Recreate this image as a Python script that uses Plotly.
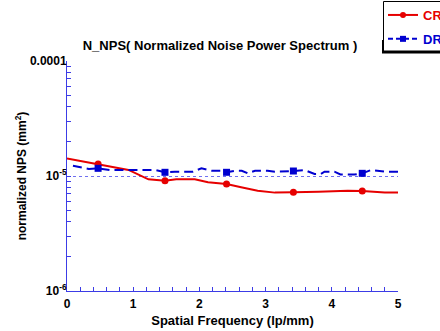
import plotly.graph_objects as go

# ---- data ----
cr_x = [0, 0.47, 0.93, 1.23, 1.48, 1.65, 1.93, 2.13, 2.41, 2.63, 2.88, 3.14, 3.36, 3.42, 3.8, 4.24, 4.46, 4.8, 5.0]
cr_y = [1.42e-5, 1.27e-5, 1.13e-5, 9.36e-6, 9.1e-6, 9.35e-6, 9.35e-6, 8.82e-6, 8.52e-6, 7.98e-6, 7.46e-6,
        7.17e-6, 7.17e-6, 7.22e-6, 7.3e-6, 7.46e-6, 7.41e-6, 7.17e-6, 7.17e-6]
cr_mx = [0.47, 1.48, 2.41, 3.42, 4.46]
cr_my = [1.27e-5, 9.1e-6, 8.52e-6, 7.22e-6, 7.41e-6]

dr_x = [0.09, 0.33, 0.47, 0.65, 1.0, 1.33, 1.48, 1.63, 1.9, 2.03, 2.19, 2.34, 2.41, 2.53, 2.64, 2.73, 2.84,
        3.03, 3.14, 3.36, 3.42, 3.59, 3.74, 3.83, 3.89, 4.04, 4.13, 4.34, 4.46, 4.59, 4.8, 5.0]
dr_y = [1.23e-5, 1.15e-5, 1.166e-5, 1.127e-5, 1.127e-5, 1.127e-5, 1.077e-5, 1.09e-5, 1.09e-5, 1.166e-5,
        1.11e-5, 1.11e-5, 1.077e-5, 1.11e-5, 1.11e-5, 1.055e-5, 1.11e-5, 1.11e-5, 1.09e-5, 1.09e-5,
        1.105e-5, 1.127e-5, 1.04e-5, 1.04e-5, 1.09e-5, 1.09e-5, 1.03e-5, 1.03e-5, 1.055e-5, 1.127e-5,
        1.09e-5, 1.09e-5]
dr_mx = [0.47, 1.48, 2.41, 3.42, 4.46]
dr_my = [1.166e-5, 1.077e-5, 1.077e-5, 1.105e-5, 1.055e-5]

y_major = [1e-6, 1e-5, 1e-4]
y_major_text = ["10<sup>-6</sup>", "10<sup>-5</sup>", "0.0001"]
y_tickvals = sorted(y_major + [m * d for d in (1e-6, 1e-5) for m in range(2, 10)])
y_ticktext = [y_major_text[y_major.index(v)] if v in y_major else "" for v in y_tickvals]

RED = "#e60000"
BLUE = "#0000d0"
AXIS = "#3c3ce6"
GRID = "#7070f0"
FONT = "Liberation Sans, Arial, sans-serif"

fig = go.Figure()
fig.add_trace(go.Scatter(x=cr_x, y=cr_y, mode="lines", line=dict(color=RED, width=2),
                         showlegend=False, hoverinfo="skip"))
fig.add_trace(go.Scatter(x=cr_mx, y=cr_my, mode="markers",
                         marker=dict(color=RED, size=7, symbol="circle"), showlegend=False))
fig.add_trace(go.Scatter(x=dr_x, y=dr_y, mode="lines", line=dict(color=BLUE, width=2, dash="9px,5px"),
                         showlegend=False, hoverinfo="skip"))
fig.add_trace(go.Scatter(x=dr_mx, y=dr_my, mode="markers",
                         marker=dict(color=BLUE, size=7, symbol="square"), showlegend=False))
# legend entries
fig.add_trace(go.Scatter(x=[None], y=[None], mode="lines+markers", name="<span style='color:%s'>CR</span>" % RED,
                         line=dict(color=RED, width=2), marker=dict(color=RED, size=6, symbol="circle"),
                         legendgroup="a"))
fig.add_trace(go.Scatter(x=[None], y=[None], mode="lines+markers", name="<span style='color:%s'>DR</span>" % BLUE,
                         line=dict(color=BLUE, width=2, dash="5px,3px"), marker=dict(color=BLUE, size=6, symbol="square"),
                         legendgroup="b"))
# invisible trace on overlay axis so it draws grid lines
fig.add_trace(go.Scatter(x=[None], y=[None], yaxis="y2", showlegend=False, hoverinfo="skip"))

L, R, T, B = 67, 42, 61, 40
W, H = 440, 331
pw, ph = W - L - R, H - T - B

def px(xp):
    return (xp - L) / pw

def py(yp):
    return (H - B - yp) / ph

fig.update_layout(
    width=W, height=H,
    margin=dict(l=L, r=R, t=T, b=B, autoexpand=False),
    paper_bgcolor="white", plot_bgcolor="white",
    font=dict(family=FONT, size=12, color="black", weight="bold"),
    title=dict(text="N_NPS( Normalized Noise Power Spectrum )", x=px(232.5), xanchor="center",
               y=1 - 45.5 / H, yanchor="middle", font=dict(size=13, weight="bold")),
    showlegend=True,
    legend=dict(x=px(383), y=py(0), xanchor="left", yanchor="top", bgcolor="rgba(0,0,0,0)",
                borderwidth=0, font=dict(size=13, weight="bold"), tracegroupgap=4),
    xaxis=dict(range=[0, 5], dtick=1, tick0=0, showline=True, linecolor=AXIS, linewidth=1,
               ticks="inside", ticklen=4, tickcolor=AXIS, showgrid=False, zeroline=False,
               tickfont=dict(size=12, weight="bold"), ticklabelstandoff=2,
               minor=dict(dtick=0.2, tick0=0, ticks="inside", ticklen=4, tickcolor=AXIS, showgrid=False),
               title=dict(text="Spatial Frequency (lp/mm)", font=dict(size=13, weight="bold"), standoff=5)),
    yaxis=dict(type="log", range=[-6, -4], tickmode="array", tickvals=y_tickvals, ticktext=y_ticktext,
               showline=True, linecolor=AXIS, linewidth=1, ticks="inside", ticklen=4, tickcolor=AXIS,
               showgrid=False, zeroline=False, tickfont=dict(size=12, weight="bold"), ticklabelstandoff=-3,
               title=dict(text="normalized NPS (mm<sup>2</sup>)", font=dict(size=12, weight="bold"), standoff=0)),
    yaxis2=dict(type="log", range=[-6, -4], overlaying="y", side="left", tickmode="array",
                tickvals=[1e-5, 1e-4], showticklabels=False, ticks="", showline=False,
                showgrid=True, gridcolor=GRID, griddash="dot", gridwidth=1, zeroline=False, layer="below traces"),
    shapes=[
        # legend shadow (bottom / lower-left only)
        dict(type="rect", xref="paper", yref="paper", x0=px(382), x1=px(446), y0=py(53.5), y1=py(40),
             fillcolor="black", line=dict(width=0), layer="above"),
        # legend box
        dict(type="rect", xref="paper", yref="paper", x0=px(383.5), x1=px(446), y0=py(51), y1=py(1.5),
             fillcolor="white", line=dict(color="black", width=1), layer="above"),
    ],
)

fig.write_html("out.html", config={"displayModeBar": False},
               post_script="document.body.style.margin='0';document.body.style.overflow='hidden';")
